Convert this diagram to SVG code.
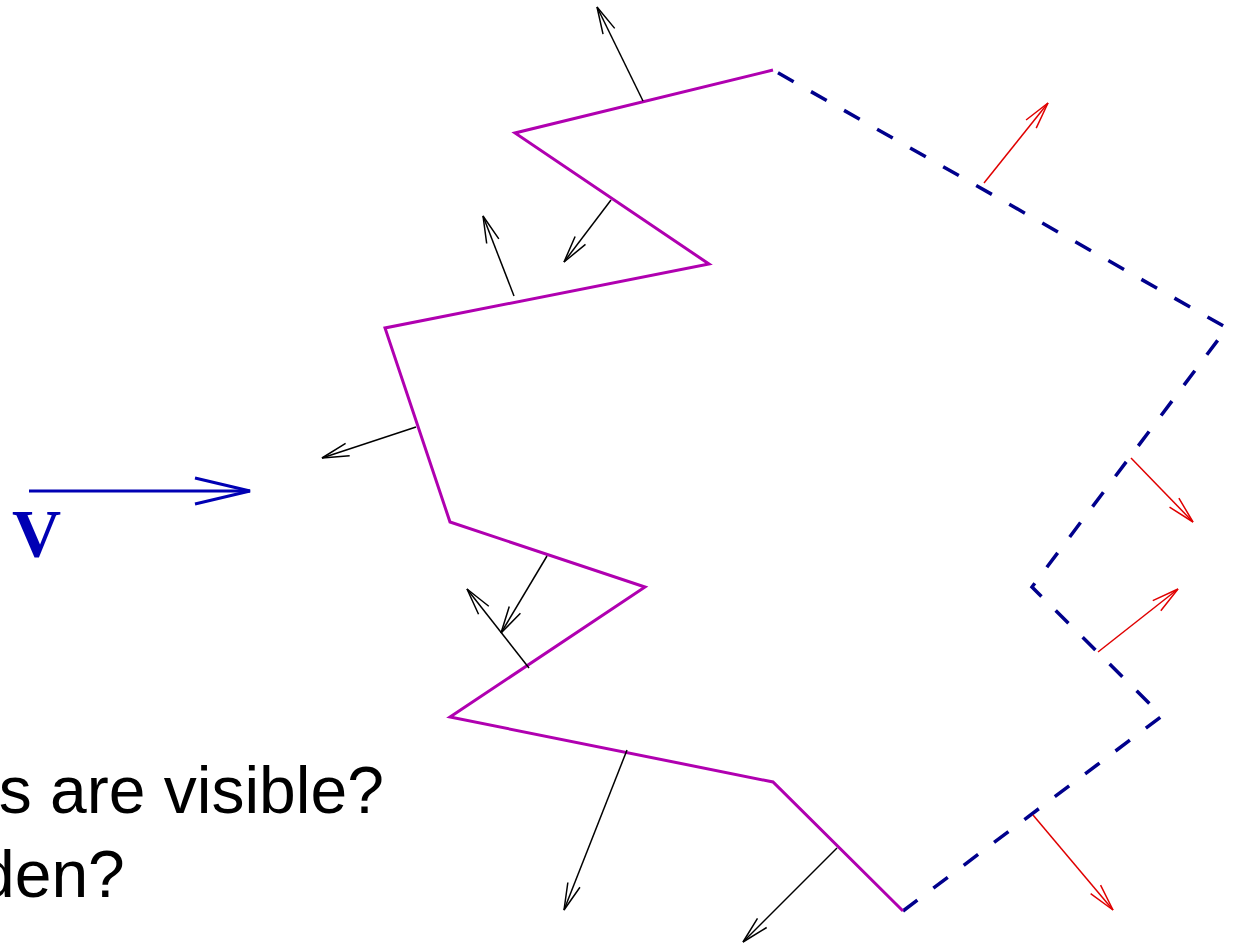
<svg xmlns="http://www.w3.org/2000/svg" width="1235" height="945" viewBox="0 0 1235 945">
  <style>
    .front { fill: none; stroke: #b000b0; stroke-width: 3; stroke-linejoin: miter; }
    .back { fill: none; stroke: #00008c; stroke-width: 3.5; stroke-dasharray: 18 20; }
    .nb { fill: none; stroke: #000; stroke-width: 1.5; marker-end: url(#hb); }
    .nr { fill: none; stroke: #e00000; stroke-width: 1.5; marker-end: url(#hr); }
    .q { font-family: "Liberation Sans", Arial, sans-serif; font-size: 66px; fill: #000; }
  </style>
  <defs>
    <marker id="hb" markerUnits="userSpaceOnUse" orient="auto" refX="0" refY="0" markerWidth="60" markerHeight="30" overflow="visible">
      <path d="M-27,-6.5 L0,0 L-27,6.5" fill="none" stroke="#000" stroke-width="1.5"/>
    </marker>
    <marker id="hr" markerUnits="userSpaceOnUse" orient="auto" refX="0" refY="0" markerWidth="60" markerHeight="30" overflow="visible">
      <path d="M-27,-6.5 L0,0 L-27,6.5" fill="none" stroke="#e00000" stroke-width="1.5"/>
    </marker>
    <marker id="hv" markerUnits="userSpaceOnUse" orient="auto" refX="0" refY="0" markerWidth="120" markerHeight="60" overflow="visible">
      <path d="M-55,-13 L0,0 L-55,13" fill="none" stroke="#0000b4" stroke-width="3"/>
    </marker>
  </defs>

  <g id="view-vector">
    <line x1="29" y1="491" x2="250" y2="491" stroke="#0000b4" stroke-width="3" marker-end="url(#hv)"/>
    <text x="12" y="556" font-family="'Liberation Serif', 'Times New Roman', serif" font-weight="bold" font-size="68" fill="#0000b4">V</text>
  </g>

  <g id="question">
    <text class="q" x="-38" y="813">ns are visible?</text>
    <text class="q" x="-22" y="897">den?</text>
  </g>

  <g id="back-faces">
    <polyline class="back" points="903,911 1162,716 1032,587 1227,328 773,70"/>
  </g>

  <g id="front-faces">
    <polyline class="front" points="773,70 515,133 709,264 385,328 450,522 645,587 450,717 773,782 903,911"/>
  </g>

  <g id="connectors">
    <line class="nb" x1="643" y1="101" x2="597" y2="7"/>
    <line class="nb" x1="611" y1="200" x2="564" y2="262"/>
    <line class="nb" x1="514" y1="296" x2="483" y2="216"/>
    <line class="nb" x1="416" y1="427" x2="322" y2="458"/>
    <line class="nb" x1="547" y1="556" x2="501" y2="633"/>
    <line class="nb" x1="529" y1="668" x2="467" y2="589"/>
    <line class="nb" x1="627" y1="750" x2="564" y2="910"/>
    <line class="nb" x1="837" y1="848" x2="743" y2="942"/>
    <line class="nr" x1="984" y1="183" x2="1048" y2="103"/>
    <line class="nr" x1="1131" y1="458" x2="1193" y2="522"/>
    <line class="nr" x1="1098" y1="652" x2="1178" y2="589"/>
    <line class="nr" x1="1033" y1="815" x2="1113" y2="910"/>
  </g>
</svg>
